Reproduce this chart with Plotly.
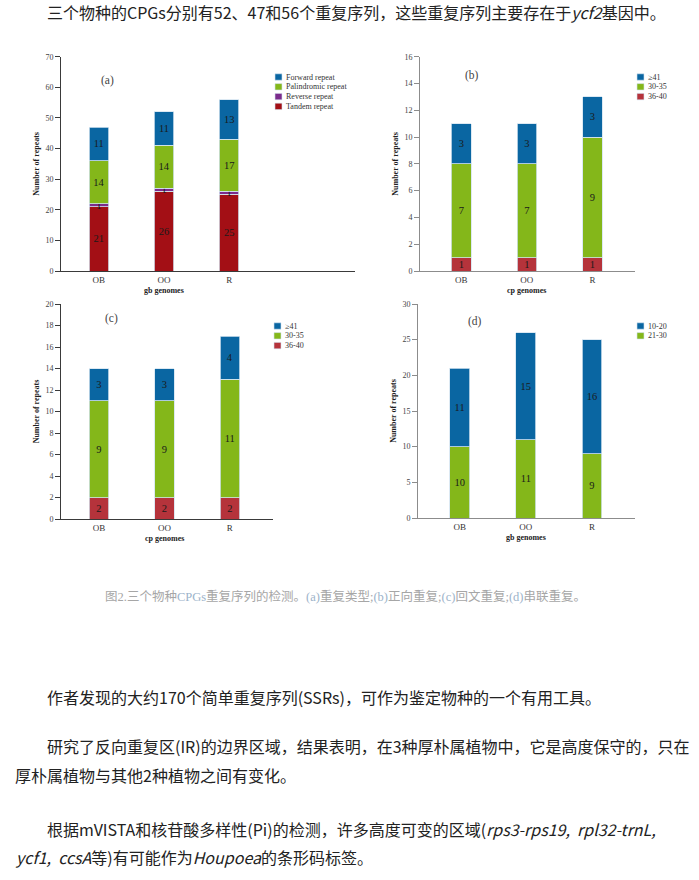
"""
Repeat-sequence detection in the CPGs of three species, stacked bars (a)-(d)
with the surrounding article text.
"""

import plotly.graph_objects as go
from plotly.subplots import make_subplots

W, H = 699, 880

genomes = ["OB", "OO", "R"]

# (a) repeat types
tandem = [21, 26, 25]
reverse = [1, 1, 1]
palindromic = [14, 14, 17]
forward = [11, 11, 13]

# (b) forward repeats by length
b_36_40 = [1, 1, 1]
b_30_35 = [7, 7, 9]
b_ge41 = [3, 3, 3]

# (c) palindromic repeats by length
c_36_40 = [2, 2, 2]
c_30_35 = [9, 9, 11]
c_ge41 = [3, 3, 4]

# (d) tandem repeats by length
d_21_30 = [10, 11, 9]
d_10_20 = [11, 15, 16]

BLUE = "#0a66a2"
GREEN = "#84b71a"
PURPLE = "#7b2b8c"
DARK_RED = "#a30f15"
RED = "#b5333b"

SERIF = "Liberation Serif, Times New Roman, serif"
CJK = "Noto Sans CJK SC, sans-serif"


def px(x):
    return x / W


def py(y):
    return 1 - y / H


panels = [
    dict(row=1, col=1, label="(a)", xtitle="gb genomes", ymax=70, dtick=10,
         xrange=[-0.58, 3.93], dom_x=(61, 355), dom_y=(56.7, 271), axis="#3a3a3a",
         label_pos=(0.13, 0.93), legend=(275, 77),
         series=[("Tandem repeat", tandem, DARK_RED),
                 ("Reverse repeat", reverse, PURPLE),
                 ("Palindromic repeat", palindromic, GREEN),
                 ("Forward repeat", forward, BLUE)]),
    dict(row=1, col=2, label="(b)", xtitle="cp genomes", ymax=16, dtick=2,
         xrange=[-0.63, 2.65], dom_x=(420, 635), dom_y=(56.7, 271), axis="#8c8c8c",
         label_pos=(0.2, 0.95), legend=(637, 77),
         series=[("36-40", b_36_40, RED),
                 ("30-35", b_30_35, GREEN),
                 ("≥41", b_ge41, BLUE)]),
    dict(row=2, col=1, label="(c)", xtitle="cp genomes", ymax=20, dtick=2,
         xrange=[-0.58, 2.66], dom_x=(61, 273), dom_y=(304, 519), axis="#3a3a3a",
         label_pos=(0.2, 0.97), legend=(274, 326),
         series=[("36-40", c_36_40, RED),
                 ("30-35", c_30_35, GREEN),
                 ("≥41", c_ge41, BLUE)]),
    dict(row=2, col=2, label="(d)", xtitle="gb genomes", ymax=30, dtick=5,
         xrange=[-0.63, 2.65], dom_x=(418, 635), dom_y=(304, 518), axis="#8c8c8c",
         label_pos=(0.22, 0.96), legend=(637, 326),
         series=[("21-30", d_21_30, GREEN),
                 ("10-20", d_10_20, BLUE)]),
]

fig = make_subplots(rows=2, cols=2)

for k, p in enumerate(panels):
    for name, values, color in p["series"]:
        fig.add_trace(
            go.Bar(
                x=genomes,
                y=values,
                name=name,
                width=0.3,
                marker=dict(color=color, line=dict(color="#d3e3f0", width=0.8)),
                text=values,
                textposition="inside",
                insidetextanchor="middle",
                textangle=0,
                textfont=dict(family=SERIF, size=10.5, color="#1a1a1a"),
                showlegend=False,
                hoverinfo="skip",
            ),
            row=p["row"],
            col=p["col"],
        )

    suffix = "" if k == 0 else str(k + 1)
    fig.update_layout(
        {
            "xaxis" + suffix: dict(
                domain=[px(p["dom_x"][0]), px(p["dom_x"][1])],
                range=p["xrange"],
                showline=True,
                linecolor=p["axis"],
                linewidth=1,
                ticks="",
                showgrid=False,
                tickfont=dict(family=SERIF, size=9, color="#333"),
                automargin=False,
            ),
            "yaxis" + suffix: dict(
                domain=[py(p["dom_y"][1]), py(p["dom_y"][0])],
                range=[0, p["ymax"]],
                dtick=p["dtick"],
                showline=True,
                linecolor=p["axis"],
                linewidth=1,
                ticks="outside",
                ticklen=5,
                tickcolor=p["axis"],
                showgrid=False,
                zeroline=False,
                tickfont=dict(family=SERIF, size=8, color="#444"),
                title=dict(text="Number of repeats", standoff=4,
                           font=dict(family=SERIF, size=8, color="#222", weight="bold")),
                automargin=False,
            ),
        }
    )

    xref = "x" + suffix
    yref = "y" + suffix
    # x-axis title sits under the middle bar
    fig.add_annotation(
        text="<b>" + p["xtitle"] + "</b>",
        x="OO", xref=xref, y=-0.09, yref=yref + " domain",
        showarrow=False, yanchor="middle",
        font=dict(family=SERIF, size=8, color="#222"),
    )
    fig.add_annotation(
        text=p["label"],
        x=p["label_pos"][0], xref=xref + " domain",
        y=p["label_pos"][1], yref=yref + " domain",
        showarrow=False,
        font=dict(family=SERIF, size=11.5, color="#444"),
    )

    # legend, top entry = top of the stack
    lx, ly = p["legend"]
    for i, (name, values, color) in enumerate(reversed(p["series"])):
        cy = ly + i * 9.8
        fig.add_shape(
            type="rect", xref="paper", yref="paper",
            x0=px(lx), x1=px(lx + 7), y0=py(cy + 3.2), y1=py(cy - 3.2),
            fillcolor=color, line=dict(color="#d3e3f0", width=0.6),
        )
        fig.add_annotation(
            text=name, x=px(lx + 8.5), y=py(cy), xref="paper", yref="paper",
            xanchor="left", yanchor="middle", showarrow=False,
            font=dict(family=SERIF, size=8, color="#333"),
        )

# article text around the figure
TEXT_FONT = dict(family=CJK, size=16, color="#222")
lines = [
    (45, 12, "三个物种的CPGs分别有52、47和56个重复序列，这些重复序列主要存在于<i>ycf2</i>基因中。"),
    (45, 697, "作者发现的大约170个简单重复序列(SSRs)，可作为鉴定物种的一个有用工具。"),
    (45, 746, "研究了反向重复区(IR)的边界区域，结果表明，在3种厚朴属植物中，它是高度保守的，只在"),
    (13, 775, "厚朴属植物与其他2种植物之间有变化。"),
    (45, 829, "根据mVISTA和核苷酸多样性(Pi)的检测，许多高度可变的区域(<i>rps3-rps19,  rpl32-trnL,</i>"),
    (13, 857, "<i>ycf1,  ccsA</i>等)有可能作为<i>Houpoea</i>的条形码标签。"),
]
for x, y, txt in lines:
    fig.add_annotation(
        text=txt, x=px(x), y=py(y), xref="paper", yref="paper",
        xanchor="left", yanchor="middle", showarrow=False, font=TEXT_FONT,
    )

hl = '<span style="color:#9cb3ca">{}</span>'
caption = (
    "图2.三个物种" + hl.format("CPGs") + "重复序列的检测。"
    + hl.format("(a)") + "重复类型;" + hl.format("(b)") + "正向重复;"
    + hl.format("(c)") + "回文重复;" + hl.format("(d)") + "串联重复。"
)
fig.add_annotation(
    text=caption, x=px(345), y=py(596), xref="paper", yref="paper",
    xanchor="center", yanchor="middle", showarrow=False,
    font=dict(family=SERIF + ", " + CJK, size=12.5, color="#a6a6a6"),
)

fig.update_layout(
    width=W,
    height=H,
    margin=dict(l=0, r=0, t=0, b=0),
    barmode="stack",
    bargap=0.7,
    paper_bgcolor="white",
    plot_bgcolor="white",
    uniformtext=dict(mode="show", minsize=10.5),
    showlegend=False,
)

# drop the browser's default 8px body margin so the figure fills the window
fig.write_html(
    "out.html",
    config={"displayModeBar": False},
    post_script="document.body.style.margin = '0';",
)
